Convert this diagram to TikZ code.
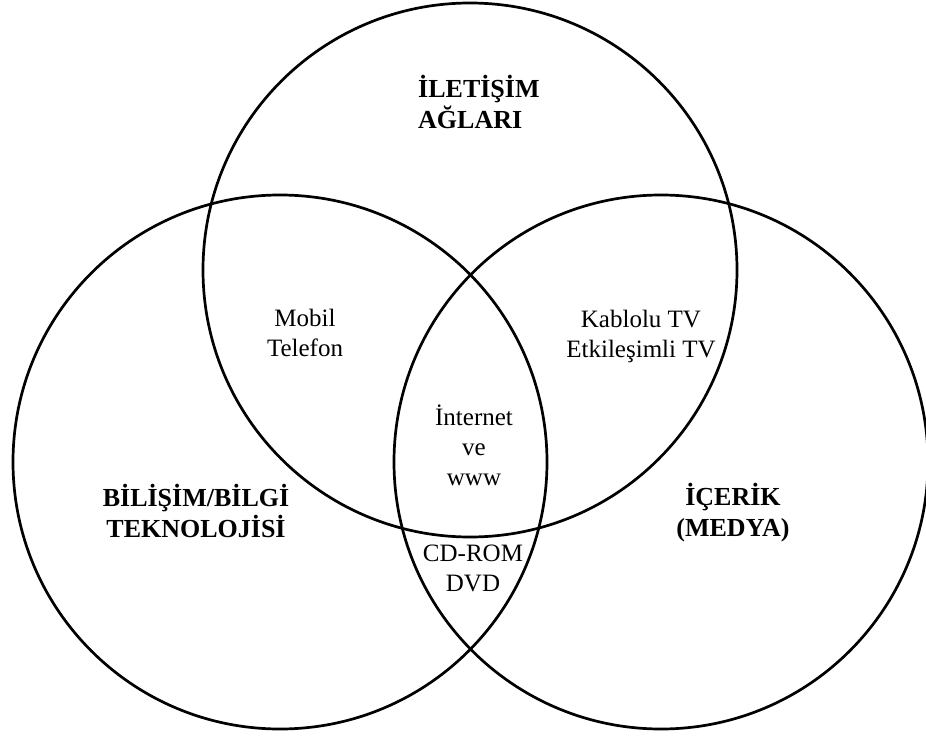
\documentclass[tikz,border=0pt]{standalone}
\usepackage{fontspec}
\setmainfont{Liberation Serif}
\begin{document}
\begin{tikzpicture}[x=1pt,y=-1pt,
  ring/.style={draw=black,line width=2.7pt},
  label/.style={font=\fontsize{25}{30}\selectfont,align=center,inner sep=0pt},
  title/.style={font=\bfseries\fontsize{26}{31}\selectfont,align=center,inner sep=0pt}]
  \useasboundingbox (0,0) rectangle (926,738);
  % the three sets
  \draw[ring] (470,270) circle[radius=267];
  \draw[ring] (280,462) circle[radius=267];
  \draw[ring] (661,462) circle[radius=267];
  % set names
  \node[title,align=left,anchor=west] (net) at (418,102) {İLETİŞİM\\AĞLARI};
  \node[title] (it) at (196,511) {BİLİŞİM/BİLGİ\\TEKNOLOJİSİ};
  \node[title] (media) at (733,513) {İÇERİK\\(MEDYA)};
  % overlaps
  \node[label] (mobile) at (305,333) {Mobil\\Telefon};
  \node[label] (tv) at (641,336) {Kablolu TV\\Etkileşimli TV};
  \node[label] (web) at (474,445) {İnternet\\ve\\www};
  \node[label] (cd) at (473,568) {CD-ROM\\DVD};
\end{tikzpicture}
\end{document}
